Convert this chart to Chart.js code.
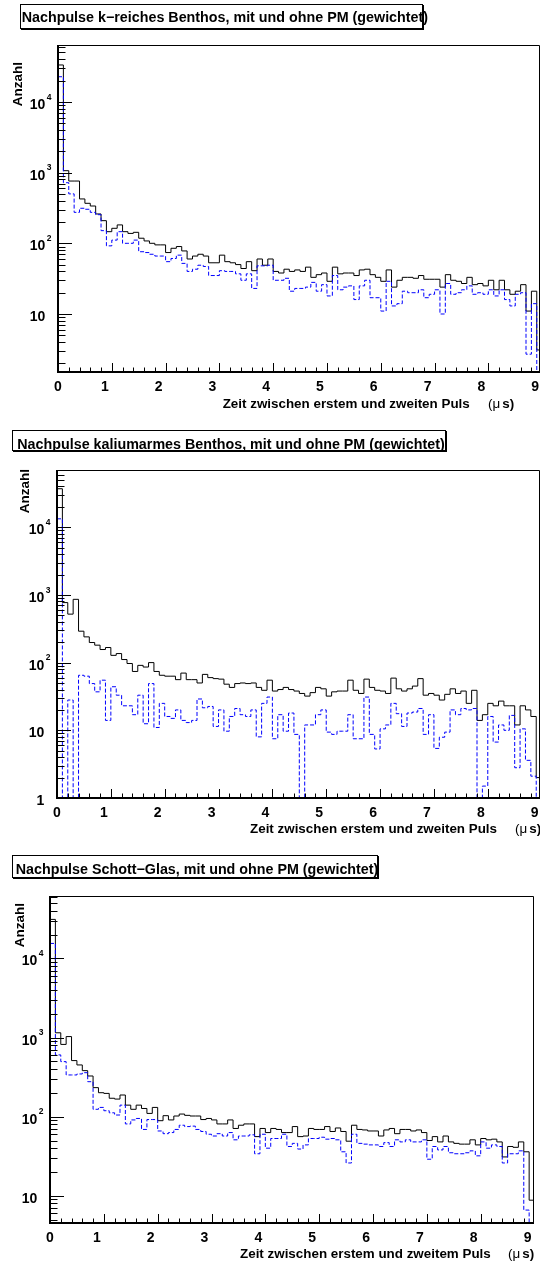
<!DOCTYPE html>
<html lang="de">
<head>
<meta charset="utf-8">
<title>Nachpulse mit und ohne PM</title>
<script src="https://cdn.jsdelivr.net/npm/chart.js@4.4.1/dist/chart.umd.min.js"></script>
<style>
  html, body { margin: 0; padding: 0; background: #fff; }
  body { position: relative; width: 540px; height: 1262px; overflow: hidden;
         font-family: "Liberation Sans", Arial, Helvetica, sans-serif; color: #000; }
  canvas { position: absolute; left: 0; }
  .box { position: absolute; box-sizing: border-box; border: 1px solid #000;
         box-shadow: 1px 1px 0 #000; background: #fff; }
  .ttl { position: absolute; font-weight: bold; font-size: 14.3px; line-height: 16px; white-space: nowrap; }
  .ytl { position: absolute; font-weight: bold; font-size: 13.5px; line-height: 13.5px; white-space: nowrap;
         transform: translate(-50%, -50%) rotate(-90deg); }
  .xtl { position: absolute; font-weight: bold; font-size: 13.4px; line-height: 15px; white-space: nowrap; }
  .unit { position: absolute; font-size: 13.4px; line-height: 15px; white-space: nowrap; }
  .unit b { margin-left: 2px; }
</style>
</head>
<body>
<canvas id="c1" width="540" height="420" style="top:0px"></canvas>
<canvas id="c2" width="540" height="425" style="top:420px"></canvas>
<canvas id="c3" width="540" height="417" style="top:845px"></canvas>

<div class="box" style="left:20px;top:4px;width:403px;height:25px"></div>
<div class="ttl" style="left:21.7px;top:8.9px">Nachpulse k−reiches Benthos, mit und ohne PM (gewichtet)</div>
<div class="ytl" style="left:17.7px;top:84.3px">Anzahl</div>
<div class="xtl" style="left:222.7px;top:395.7px">Zeit zwischen erstem und zweiten Puls</div>
<div class="unit" style="left:488px;top:395.7px">(μ<b>s)</b></div>

<div class="box" style="left:12px;top:430px;width:434px;height:21px"></div>
<div class="ttl" style="left:17.3px;top:435.8px">Nachpulse kaliumarmes Benthos, mit und ohne PM (gewichtet)</div>
<div class="ytl" style="left:25px;top:490.5px">Anzahl</div>
<div class="xtl" style="left:250px;top:820.6px">Zeit zwischen erstem und zweiten Puls</div>
<div class="unit" style="left:515px;top:820.6px">(μ<b>s)</b></div>

<div class="box" style="left:12px;top:855px;width:366px;height:23px"></div>
<div class="ttl" style="left:15.7px;top:861.2px">Nachpulse Schott−Glas, mit und ohne PM (gewichtet)</div>
<div class="ytl" style="left:19.5px;top:925px">Anzahl</div>
<div class="xtl" style="left:240px;top:1246px">Zeit zwischen erstem und zweitem Puls</div>
<div class="unit" style="left:508px;top:1246px">(μ<b>s)</b></div>

<script>
// 90 bins of 0.1 µs each, starting at 0
const binWidth = 0.1;
const xTickLabels = [0, 1, 2, 3, 4, 5, 6, 7, 8, 9];

// k-reiches Benthos
const p1Mit = [33300, 1065, 760, 760, 424, 368, 337, 260, 209, 146,
  163, 182, 146, 138, 143, 118, 108, 100, 95, 95,
  74, 85, 90, 78, 60, 66, 70, 66, 53, 53,
  68, 55, 53, 50, 44, 55, 41, 60, 49, 60,
  40, 38, 43, 40, 42, 40, 46, 33, 36, 38,
  29, 46, 37, 38, 38, 35, 42, 43, 36, 33,
  29, 42, 24, 30, 33, 33, 32, 35, 31, 31,
  31, 24, 36, 30, 29, 27, 33, 26, 27, 25,
  30, 22, 30, 22, 19, 21, 26, 11, 21, 3.1];
const p1Ohne = [22700, 720, 500, 274, 313, 303, 274, 254, 151, 92,
  111, 146, 100, 100, 111, 76, 74, 70, 66, 66,
  55, 61, 68, 52, 40, 43, 49, 47, 35, 35,
  41, 40, 40, 37, 30, 37, 23, 48, 48, 49,
  30, 30, 32, 21, 23, 23, 24, 28, 21, 26,
  18, 35, 22, 24, 25, 16, 25, 30, 17, 17,
  11, 29, 13, 14, 21, 20, 20, 22, 17, 19,
  22, 10, 27, 19, 20, 22, 25, 19, 20, 19,
  22, 18, 22, 16, 13, 19, 20, 2.7, 14, 0];

// kaliumarmes Benthos
const p2Mit = [37000, 770, 520, 860, 291, 240, 198, 181, 156, 167,
  128, 136, 111, 97, 74, 91, 86, 100, 74, 65,
  63, 63, 56, 70, 56, 56, 50, 67, 60, 58,
  57, 48, 43, 49, 50, 49, 50, 43, 39, 55,
  38, 40, 43, 40, 38, 35, 32, 36, 43, 41,
  32, 37, 38, 38, 55, 39, 35, 57, 43, 39,
  38, 35, 59, 41, 38, 41, 45, 58, 33, 35,
  33, 28, 34, 41, 35, 38, 25, 39, 14, 17,
  25, 23, 27, 23, 23, 12, 23, 20, 16, 2];
const p2Ohne = [13300, 0, 28, 0, 65, 63, 49, 37, 55, 14,
  44, 33, 23, 23, 17, 33, 12.5, 49, 11, 25,
  16, 15, 20, 14, 13, 14, 29, 21.5, 22.5, 11.4,
  20, 9.7, 16, 21, 17, 16, 20, 8, 25, 31,
  7.5, 17, 9.7, 18, 8.7, 0, 12, 12, 17, 20,
  9.4, 8.7, 9.7, 9.7, 17, 7.5, 7.5, 31, 8.7, 5.3,
  10.5, 12, 25, 17.6, 11.4, 18, 18.6, 21, 8.7, 17,
  5.4, 7.9, 9.4, 20, 17, 21, 20, 21, 0, 1.5,
  16, 6.7, 12, 10, 16.6, 2.8, 10.5, 3.6, 2.1, 0];

// Schott-Glas
const p3Mit = [31200, 1150, 820, 1030, 512, 451, 382, 327, 233, 201,
  197, 171, 167, 188, 140, 124, 140, 127, 110, 131,
  89, 103, 91, 102, 108, 104, 102, 102, 92, 95,
  91, 81, 81, 91, 71, 78, 81, 81, 56, 71,
  63, 71, 69, 63, 63, 75, 56, 57, 71, 69,
  69, 75, 65, 72, 65, 49, 78, 69, 68, 66,
  66, 57, 68, 71, 61, 69, 69, 66, 68, 63,
  50, 56, 48, 57, 48, 46, 45, 45, 51, 44,
  53, 51, 52, 48, 31, 42, 41, 48, 36, 8.8];
const p3Ohne = [15500, 604, 497, 337, 337, 347, 360, 277, 124, 131,
  119, 112, 105, 140, 81, 91, 95, 69, 92, 92,
  66, 61, 63, 69, 78, 75, 76, 69, 65, 60,
  57, 61, 57, 63, 51, 57, 57, 59, 34, 60,
  40, 53, 53, 60, 42, 46, 39, 44, 53, 53,
  55, 52, 53, 51, 36, 26, 60, 46, 45, 44,
  44, 42, 47, 42, 51, 48, 51, 48, 48, 51,
  29, 42, 38, 42, 35, 34, 34, 35, 37, 32,
  48, 40, 44, 42, 26, 34, 34, 37, 6.6, 0];

// decade labels on the log axes
const p1YTicks = [10, 100, 1000, 10000];
const p2YTicks = [1, 10, 100, 1000, 10000];
const p3YTicks = [10, 100, 1000, 10000];

const tickFont = 'bold 14px "Liberation Sans", Arial, sans-serif';
const supFont = 'bold 8.5px "Liberation Sans", Arial, sans-serif';

// histogram outline: one point per lower bin edge, closed at the last upper edge
function stepPoints(values, floor) {
  const pts = values.map((v, i) => ({ x: +(i * binWidth).toFixed(2), y: v > 0 ? v : floor }));
  pts.push({ x: +(values.length * binWidth).toFixed(2), y: floor });
  return pts;
}

// frame, inward ticks and labels in the style of a physics histogram
const rootAxes = {
  id: 'rootAxes',
  afterDatasetsDraw(chart, args, opts) {
    const { ctx, chartArea: a } = chart;
    const xs = chart.scales.x, ys = chart.scales.y;
    const L = a.left, R = a.right, T = a.top, B = a.bottom;
    ctx.save();
    ctx.strokeStyle = '#000';
    ctx.lineWidth = 1;
    ctx.beginPath();
    const e0 = Math.floor(Math.log10(ys.min)), e1 = Math.ceil(Math.log10(ys.max));
    for (let e = e0; e <= e1; e++) {
      for (let m = 1; m <= 9; m++) {
        const v = m * Math.pow(10, e);
        if (v < ys.min * 0.999 || v > ys.max) continue;
        const py = Math.round(ys.getPixelForValue(v)) + 0.5;
        ctx.moveTo(L, py); ctx.lineTo(L + (m === 1 ? 14 : 7.5), py);
      }
    }
    for (let k = 0; k / 5 <= xs.max + 1e-9; k++) {
      const px = Math.round(xs.getPixelForValue(k / 5)) + 0.5;
      ctx.moveTo(px, B); ctx.lineTo(px, B - (k % 5 === 0 ? 9 : 4.5));
    }
    ctx.stroke();

    ctx.beginPath();
    ctx.moveTo(L, T + 0.5); ctx.lineTo(R - 0.5, T + 0.5); ctx.lineTo(R - 0.5, B);
    ctx.stroke();

    ctx.lineWidth = 2;
    ctx.beginPath();
    ctx.moveTo(L, T); ctx.lineTo(L, B + 1);
    ctx.moveTo(L - 1, B); ctx.lineTo(R, B);
    ctx.stroke();

    ctx.fillStyle = '#000';
    ctx.textBaseline = 'alphabetic';
    ctx.font = tickFont;
    ctx.textAlign = 'center';
    opts.xLabels.forEach(v => {
      const px = xs.getPixelForValue(v) - (v === 0 ? 0 : 7);
      ctx.fillText(String(v), px, B + 18.5);
    });
    opts.yTicks.forEach(v => {
      const py = ys.getPixelForValue(v);
      const e = Math.round(Math.log10(v));
      const right = L - 12.7;
      ctx.font = tickFont;
      ctx.textAlign = 'right';
      ctx.fillText(e === 0 ? '1' : '10', right, py + 7);
      if (e > 1) {
        ctx.font = supFont;
        ctx.textAlign = 'left';
        ctx.fillText(String(e), right + 1.5, py - 2.3);
      }
    });
    ctx.restore();
  }
};

function makePanel(id, mit, ohne, cfg) {
  const floor = cfg.yMin / 4;
  return new Chart(document.getElementById(id), {
    type: 'line',
    data: {
      datasets: [
        { label: 'ohne PM', data: stepPoints(ohne, floor), borderColor: '#0000ff',
          borderWidth: 1, borderDash: [4, 2], stepped: true, pointRadius: 0, fill: false, clip: 0 },
        { label: 'mit PM', data: stepPoints(mit, floor), borderColor: '#000000',
          borderWidth: 1, stepped: true, pointRadius: 0, fill: false, clip: 0 }
      ]
    },
    options: {
      responsive: false,
      animation: false,
      devicePixelRatio: 1,
      events: [],
      layout: { padding: cfg.padding },
      scales: {
        x: { type: 'linear', display: false, min: 0, max: cfg.xMax },
        y: { type: 'logarithmic', display: false, min: cfg.yMin, max: cfg.yMax }
      },
      plugins: {
        legend: { display: false },
        tooltip: { enabled: false },
        rootAxes: { xLabels: xTickLabels, yTicks: cfg.yTicks }
      }
    },
    plugins: [rootAxes]
  });
}

makePanel('c1', p1Mit, p1Ohne, {
  padding: { left: 58, right: 0, top: 45, bottom: 48 },
  xMax: 8.96, yMin: 1.512, yMax: 63830, yTicks: p1YTicks
});
makePanel('c2', p2Mit, p2Ohne, {
  padding: { left: 57, right: 0, top: 50, bottom: 47 },
  xMax: 8.97, yMin: 1, yMax: 69980, yTicks: p2YTicks
});
makePanel('c3', p3Mit, p3Ohne, {
  padding: { left: 50, right: 6, top: 51, bottom: 39 },
  xMax: 8.99, yMin: 4.53, yMax: 61660, yTicks: p3YTicks
});
</script>
</body>
</html>
